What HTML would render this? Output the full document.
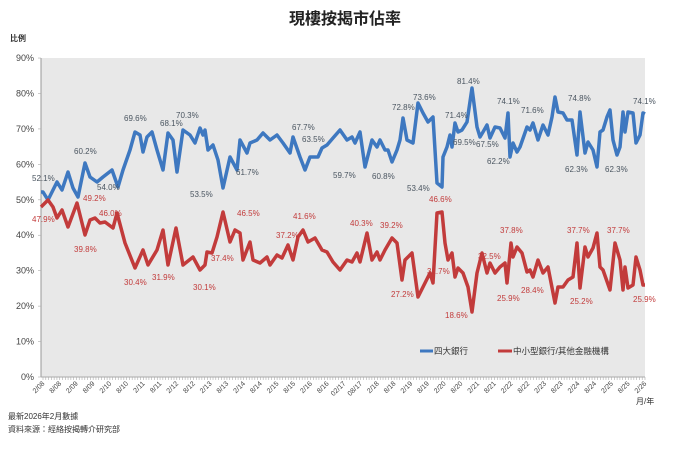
<!DOCTYPE html>
<html><head><meta charset="utf-8"><style>
body{margin:0;background:#fff;}
svg{display:block;font-family:"Liberation Sans","Noto Sans CJK TC",sans-serif;}
</style></head><body>
<svg width="690" height="450" viewBox="0 0 690 450">
<text x="345" y="24" text-anchor="middle" font-size="16" font-weight="bold" fill="#222">現樓按揭市佔率</text>
<text x="10" y="41" font-size="8" font-weight="bold" fill="#333">比例</text>
<rect x="41" y="58" width="604" height="319" fill="#e8e8e8"/>
<line x1="41" y1="58" x2="41" y2="377" stroke="#999" stroke-width="1"/>
<line x1="41" y1="377" x2="645" y2="377" stroke="#aaa" stroke-width="1"/>
<g id="ticks" stroke="#aaa" stroke-width="0.6"></g>
<g font-size="9" fill="#444" text-anchor="end" id="ylab"></g>
<g font-size="7" fill="#444" text-anchor="end" id="xlab"></g>
<polyline id="blue" fill="none" stroke="#3e78c0" stroke-width="3.5" stroke-linejoin="round"/>
<polyline id="red" fill="none" stroke="#c23b3b" stroke-width="3.5" stroke-linejoin="round"/>
<g font-size="8" fill="#4a5560" id="bl"></g>
<g font-size="8" fill="#c23b3b" id="rl"></g>
<line x1="420" y1="351" x2="433" y2="351" stroke="#3e78c0" stroke-width="3"/>
<text x="434" y="354" font-size="8.5" fill="#333">四大銀行</text>
<line x1="498" y1="351" x2="512" y2="351" stroke="#c23b3b" stroke-width="3"/>
<text x="513" y="354" font-size="8.5" fill="#333">中小型銀行/其他金融機構</text>
<text x="636" y="404" font-size="8" fill="#333">月/年</text>
<text x="8" y="419" font-size="8" fill="#333">最新2026年2月數據</text>
<text x="8" y="432" font-size="8" fill="#333">資料來源：經絡按揭轉介研究部</text>
</svg>
<script>
var NS="http://www.w3.org/2000/svg";
function el(t,a,txt,p){var e=document.createElementNS(NS,t);for(var k in a)e.setAttribute(k,a[k]);if(txt!=null)e.textContent=txt;document.getElementById(p).appendChild(e);return e;}
for(var i=0;i<=9;i++){var y=377-i*35.44;el('text',{x:34,y:y+3},i*10+'%','ylab');el('line',{x1:38,y1:y,x2:41,y2:y},null,'ticks');}
var lbl=[];for(var yr=8;yr<=26;yr++){var s=yr<10?'0'+yr:''+yr;if(yr==17){lbl.push('02/17','08/17');}else{lbl.push('2/'+s);if(yr<26)lbl.push('8/'+s);}}
for(var i=0;i<lbl.length;i++){var x=43+i*16.72;el('text',{x:x+2,y:384,transform:'rotate(-45 '+(x+2)+' 384)'},lbl[i],'xlab');}
for(var m=0;m<=216;m++){var x=43+m*2.787;el('line',{x1:x,y1:377,x2:x,y2:380},null,'ticks');}
var B=[[41,192],[43,192],[48,200],[57,182],[62,190],[68,172],[73,188],[78,197],[85,163],[90,177],[97,182],[103,177],[112,170],[118,187],[123,170],[130,150],[135,132],[140,135],[143,152],[147,137],[152,132],[157,150],[163,170],[168,133],[173,140],[177,172],[183,130],[190,135],[195,143],[200,128],[203,135],[205,130],[208,150],[213,145],[218,160],[223,188],[230,157],[237,170],[240,140],[247,153],[250,143],[257,140],[263,133],[270,140],[277,135],[283,143],[290,153],[293,137],[300,157],[305,170],[310,157],[313,157],[318,157],[322,148],[327,145],[333,138],[340,130],[347,140],[352,137],[355,143],[360,132],[365,167],[372,140],[377,147],[380,140],[385,150],[388,150],[392,162],[397,150],[400,140],[403,118],[407,140],[413,143],[418,103],[423,113],[428,122],[433,117],[437,183],[442,187],[443,157],[447,147],[450,135],[452,147],[455,123],[458,132],[462,130],[467,122],[472,88],[477,127],[480,137],[483,132],[487,125],[490,138],[495,127],[500,128],[505,138],[508,113],[510,157],[513,143],[517,152],[520,147],[527,127],[530,130],[533,123],[538,140],[543,125],[548,135],[552,117],[555,97],[558,112],[563,113],[567,120],[572,120],[577,155],[580,112],[585,153],[588,142],[593,150],[597,167],[600,132],[603,130],[607,117],[610,110],[613,140],[617,155],[620,147],[623,112],[625,132],[628,112],[633,113],[636,143],[640,135],[643,113],[645,114]];
var R=[[41,207],[48,200],[53,207],[57,218],[62,210],[68,227],[77,203],[85,235],[90,220],[95,218],[100,223],[105,222],[113,228],[117,213],[125,243],[135,268],[143,250],[148,265],[157,250],[163,230],[168,265],[176,228],[183,265],[193,257],[200,270],[205,265],[207,252],[212,253],[217,237],[223,212],[230,242],[235,230],[240,233],[243,260],[250,242],[253,260],[260,263],[267,257],[270,265],[277,255],[282,258],[288,245],[293,260],[298,237],[303,230],[308,242],[315,238],[322,250],[327,252],[333,262],[340,270],[347,260],[352,262],[357,253],[360,262],[367,233],[372,260],[377,252],[380,260],[385,250],[392,238],[397,243],[402,280],[405,260],[412,253],[418,297],[425,283],[430,273],[433,283],[437,213],[442,212],[445,243],[448,260],[452,253],[455,277],[458,268],[463,273],[468,287],[472,312],[477,273],[482,253],[487,273],[490,263],[495,273],[500,267],[505,263],[507,283],[511,243],[513,257],[517,247],[522,253],[527,272],[530,270],[533,277],[538,260],[543,273],[548,267],[555,303],[558,287],[563,287],[568,280],[573,277],[577,243],[580,288],[585,247],[588,257],[593,248],[597,233],[600,267],[603,270],[610,290],[615,243],[620,260],[623,290],[625,267],[628,288],[633,285],[636,257],[640,270],[643,285],[645,285]];
document.getElementById('blue').setAttribute('points',B.map(function(p){return p.join(',');}).join(' '));
document.getElementById('red').setAttribute('points',R.map(function(p){return p.join(',');}).join(' '));
var BL=[["52.1%",32,181],["60.2%",74,154],["54.0%",97,190],["69.6%",124,121],["68.1%",160,126],["70.3%",176,118],["53.5%",190,197],["61.7%",236,175],["67.7%",292,130],["63.5%",302,142],["59.7%",333,178],["60.8%",372,179],["72.8%",392,110],["73.6%",413,100],["53.4%",407,191],["71.4%",445,118],["69.5%",453,145],["81.4%",457,84],["67.5%",476,147],["62.2%",487,164],["74.1%",497,104],["71.6%",521,113],["74.8%",568,101],["62.3%",565,172],["62.3%",605,172],["74.1%",633,104]];
var RL=[["47.9%",32,222],["49.2%",83,201],["39.8%",74,252],["46.0%",99,216],["30.4%",124,285],["31.9%",152,280],["30.1%",193,290],["46.5%",237,216],["37.4%",211,261],["37.2%",276,238],["41.6%",293,219],["40.3%",350,226],["39.2%",380,228],["27.2%",391,297],["31.7%",427,274],["46.6%",429,202],["18.6%",445,318],["32.5%",478,259],["37.8%",500,233],["25.9%",497,301],["28.4%",521,293],["37.7%",567,233],["25.2%",570,304],["37.7%",607,233],["25.9%",633,302]];
BL.forEach(function(a){el('text',{x:a[1],y:a[2]},a[0],'bl');});
RL.forEach(function(a){el('text',{x:a[1],y:a[2]},a[0],'rl');});
</script>
</body></html>
